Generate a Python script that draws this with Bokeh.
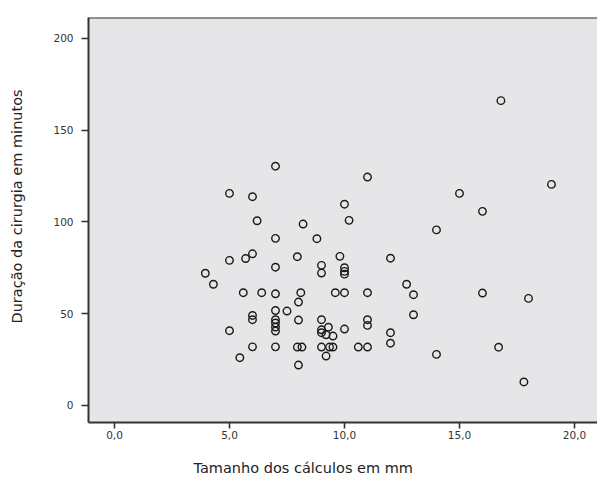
from bokeh.plotting import figure
from bokeh.models import Range1d, FixedTicker, Span, Title
from bokeh.embed import file_html
from bokeh.resources import INLINE

# Stone size (mm) and surgery duration (minutes)
size_mm = [3.95, 4.3, 5.0, 5.0, 5.0, 5.45, 5.7, 5.6, 6.0, 6.2,
           6.0, 6.0, 6.0, 6.0, 6.4, 7.0, 7.0, 7.0, 7.0, 7.0,
           7.0, 7.0, 7.0, 7.0, 7.0, 7.5, 7.95, 8.1, 8.0, 8.0,
           7.95, 8.15, 8.0, 8.2, 8.8, 9.0, 9.0, 9.0, 9.3, 9.0,
           9.0, 9.2, 9.5, 9.0, 9.35, 9.5, 9.2, 9.6, 9.8, 10.0,
           10.2, 10.0, 10.0, 10.0, 10.0, 10.0, 10.6, 11.0, 11.0, 11.0,
           11.0, 11.0, 12.0, 12.0, 12.0, 12.7, 13.0, 13.0, 14.0, 14.0,
           15.0, 16.0, 16.0, 16.7, 16.8, 17.8, 18.0, 19.0]
duration_min = [72, 66, 115.5, 79, 40.7, 26, 80, 61.4, 113.7, 100.6,
                82.6, 49, 46.7, 31.9, 61.4, 130.3, 91, 75.3, 60.8, 51.7,
                46.7, 44.9, 42.7, 40.5, 31.9, 51.4, 81, 61.4, 56.3, 46.5,
                31.8, 31.8, 22, 98.8, 90.8, 76.3, 72.1, 46.7, 42.6, 41.2,
                39.6, 38.5, 37.8, 31.8, 31.8, 31.8, 26.9, 61.4, 81.2, 109.6,
                100.8, 75, 73, 71.5, 61.4, 41.6, 31.8, 124.4, 61.4, 46.7,
                43.6, 31.8, 80.2, 39.6, 33.9, 66, 60.3, 49.4, 95.6, 27.8,
                115.5, 105.7, 61.2, 31.7, 166, 12.8, 58.3, 120.4]

x_ticks = [0, 5, 10, 15, 20]
x_tick_labels = ["0,0", "5,0", "10,0", "15,0", "20,0"]
y_ticks = [0, 50, 100, 150, 200]

x_label = "Tamanho dos cálculos em mm"
y_label = "Duração da cirurgia em minutos"

X_START, X_END = -1.13, 21.0
Y_START, Y_END = -9.3, 211.3

FONT = "DejaVu Sans"
FRAME_COLOR = "#333333"

p = figure(frame_width=509, frame_height=405,
           output_backend="svg", toolbar_location=None,
           x_range=Range1d(X_START, X_END), y_range=Range1d(Y_START, Y_END),
           min_border_left=88, min_border_right=0, min_border_top=17,
           min_border_bottom=0)

p.background_fill_color = "#E6E6E8"
p.border_fill_color = "white"
p.outline_line_color = None
p.grid.visible = False

p.scatter(size_mm, duration_min, marker="circle", size=7.5,
          fill_color=None, line_color="#1a1a1a", line_width=1.4)

# axes
p.xaxis.ticker = FixedTicker(ticks=x_ticks)
p.xaxis.major_label_overrides = {t: l for t, l in zip(x_ticks, x_tick_labels)}
p.yaxis.ticker = FixedTicker(ticks=y_ticks)
for ax in (p.xaxis, p.yaxis):
    ax.axis_line_color = FRAME_COLOR
    ax.axis_line_width = 2
    ax.major_tick_line_color = FRAME_COLOR
    ax.major_tick_line_width = 1.6
    ax.major_tick_in = 0
    ax.minor_tick_line_color = None
    ax.major_label_text_font = FONT
    ax.major_label_text_font_size = "10.5px"
    ax.major_label_text_color = "#333333"
    # blank spacer label to push the axis titles outward
    ax.axis_label = " "
    ax.axis_label_text_font = FONT
    ax.axis_label_text_font_size = "10px"
p.xaxis.major_tick_out = 6
p.xaxis.major_label_standoff = 2
p.xaxis.axis_label_standoff = 2
p.yaxis.major_tick_out = 7
p.yaxis.major_label_standoff = 8
p.yaxis.axis_label_standoff = 10

# top border line
p.add_layout(Span(location=Y_END, dimension="width", line_color=FRAME_COLOR,
                  line_width=2))

# axis titles
xt = Title(text=x_label, align="left", offset=105, standoff=0,
           vertical_align="bottom",
           text_font=FONT, text_font_size="14.5px", text_font_style="normal",
           text_color="#222222")
p.add_layout(xt, "below")
yt = Title(text=y_label, align="left", offset=99, standoff=0,
           vertical_align="top",
           text_font=FONT, text_font_size="14.5px", text_font_style="normal",
           text_color="#222222")
p.add_layout(yt, "left")

open("out.html", "w").write(file_html(p, INLINE))
